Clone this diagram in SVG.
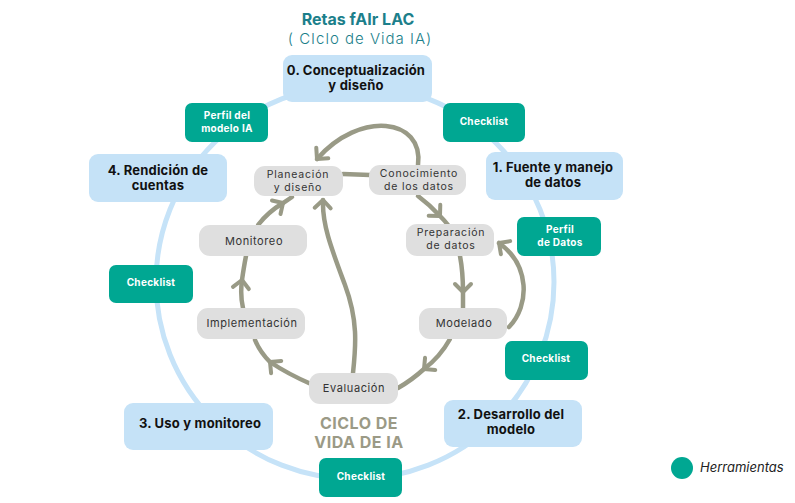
<svg xmlns="http://www.w3.org/2000/svg" width="795" height="503" viewBox="0 0 795 503">
<defs>
<style>
.ring{fill:none;stroke:#c6e3f8;stroke-width:5}
.conn{fill:none;stroke:#999a86;stroke-width:4.5;stroke-linecap:round}
.blue{fill:#c5e2f7}
.green{fill:#00a792}
.gray{fill:#dfdfdf}
.tb{font-family:Inter,"Liberation Sans",sans-serif;font-weight:700;font-size:13px;letter-spacing:0.2px;fill:#111;text-anchor:middle}
.tg{font-family:Inter,"Liberation Sans",sans-serif;font-weight:700;font-size:10px;letter-spacing:0.3px;fill:#fff;text-anchor:middle}
.tc{font-family:Inter,"Liberation Sans",sans-serif;font-weight:400;font-size:11px;letter-spacing:0.6px;fill:#333;text-anchor:middle}
.tc2{font-family:Inter,"Liberation Sans",sans-serif;font-weight:400;font-size:10.5px;letter-spacing:0.8px;fill:#333;text-anchor:middle}
.title{font-family:Inter,"Liberation Sans",sans-serif;fill:#1c7f8b;text-anchor:middle}
.ciclo{font-family:Inter,"Liberation Sans",sans-serif;font-weight:700;font-size:16px;letter-spacing:0.5px;fill:#9b9a86;text-anchor:middle}
</style>
<marker id="chev" markerUnits="userSpaceOnUse" markerWidth="24" markerHeight="24" viewBox="-12 -12 24 24" refX="0" refY="0" orient="auto">
<path d="M-8,-8 L0,0 L-8,8" fill="none" stroke="#999a86" stroke-width="4" stroke-linecap="round" stroke-linejoin="round"/>
</marker>
</defs>
<rect width="795" height="503" fill="#fff"/>

<g id="title">
<text class="title" x="358" y="25" font-size="16px" font-weight="700">Retas fAIr LAC</text>
<text class="title" x="360" y="44" font-size="15px" font-weight="300" letter-spacing="1px">( CIclo de Vida IA)</text>
</g>

<g id="ring">
<ellipse class="ring" cx="355" cy="282" rx="199" ry="197"/>
</g>

<g id="connectors">
<path class="conn" d="M343,174 L370,175" stroke-width="5"/>
<path class="conn" d="M418,196 Q430,205 440,216 Q445,221 448,225" marker-mid="url(#chev)"/>
<path class="conn" d="M460,256 Q463,272 463,292 Q463,300 463,308" marker-mid="url(#chev)"/>
<path class="conn" d="M450,339 Q440,357 424,369 Q412,380 398,388" marker-mid="url(#chev)"/>
<path class="conn" d="M311,384 Q288,374 270,362 Q260,352 255,340" marker-mid="url(#chev)"/>
<path class="conn" d="M243,308 Q240,295 242,280 Q244,266 246,256" marker-mid="url(#chev)"/>
<path class="conn" d="M258,225 Q268,212 283,203 L292,197" marker-mid="url(#chev)"/>
<path class="conn" d="M418,165 C424,118 360,110 317,159" marker-end="url(#chev)"/>
<path class="conn" d="M509,327 C530,305 530,265 499,243" marker-end="url(#chev)"/>
<path class="conn" d="M353,373 C356,345 358,320 345,285 S322,225 323,200" marker-end="url(#chev)"/>
</g>

<g id="stage0">
<rect class="blue" x="283" y="55" width="149" height="47" rx="9"/>
<text class="tb" x="356" y="75">0. Conceptualización</text>
<text class="tb" x="356" y="90">y diseño</text>
</g>
<g id="stage1">
<rect class="blue" x="486" y="152" width="137" height="48" rx="9"/>
<text class="tb" x="553" y="172">1. Fuente y manejo</text>
<text class="tb" x="553" y="187">de datos</text>
</g>
<g id="stage2">
<rect class="blue" x="444" y="400" width="138" height="47" rx="9"/>
<text class="tb" x="511" y="419">2. Desarrollo del</text>
<text class="tb" x="511" y="434">modelo</text>
</g>
<g id="stage3">
<rect class="blue" x="124" y="403" width="149" height="47" rx="9"/>
<text class="tb" x="200" y="428">3. Uso y monitoreo</text>
</g>
<g id="stage4">
<rect class="blue" x="89" y="154" width="138" height="48" rx="9"/>
<text class="tb" x="158" y="175">4. Rendición de</text>
<text class="tb" x="158" y="190">cuentas</text>
</g>

<g id="tool-perfil-modelo">
<rect class="green" x="185" y="103" width="83" height="39" rx="7"/>
<text class="tg" x="227" y="119">Perfil del</text>
<text class="tg" x="227" y="132">modelo IA</text>
</g>
<g id="tool-checklist-0">
<rect class="green" x="443" y="103" width="82" height="39" rx="7"/>
<text class="tg" x="484" y="125">Checklist</text>
</g>
<g id="tool-perfil-datos">
<rect class="green" x="517" y="217" width="84" height="39" rx="7"/>
<text class="tg" x="560" y="233">Perfil</text>
<text class="tg" x="560" y="246">de Datos</text>
</g>
<g id="tool-checklist-1">
<rect class="green" x="505" y="341" width="83" height="39" rx="7"/>
<text class="tg" x="546" y="362">Checklist</text>
</g>
<g id="tool-checklist-2">
<rect class="green" x="319" y="458" width="83" height="39" rx="7"/>
<text class="tg" x="361" y="480">Checklist</text>
</g>
<g id="tool-checklist-3">
<rect class="green" x="109" y="265" width="84" height="38" rx="7"/>
<text class="tg" x="151" y="286">Checklist</text>
</g>

<g id="planeacion">
<rect class="gray" x="254" y="166" width="89" height="30" rx="11"/>
<text class="tc2" x="298" y="178.3">Planeación</text>
<text class="tc2" x="298" y="191.2">y diseño</text>
</g>
<g id="conocimiento">
<rect class="gray" x="369" y="165" width="97" height="30" rx="11"/>
<text class="tc2" x="419" y="177.2">Conocimiento</text>
<text class="tc2" x="419" y="190.1">de los datos</text>
</g>
<g id="preparacion">
<rect class="gray" x="406" y="224" width="88" height="32" rx="11"/>
<text class="tc2" x="451" y="236.2">Preparación</text>
<text class="tc2" x="451" y="249.1">de datos</text>
</g>
<g id="monitoreo">
<rect class="gray" x="199" y="225" width="108" height="31" rx="11"/>
<text class="tc" x="254" y="245">Monitoreo</text>
</g>
<g id="implementacion">
<rect class="gray" x="197" y="308" width="108" height="31" rx="11"/>
<text class="tc" x="252" y="327">Implementación</text>
</g>
<g id="modelado">
<rect class="gray" x="419" y="308" width="88" height="31" rx="11"/>
<text class="tc" x="464" y="327">Modelado</text>
</g>
<g id="evaluacion">
<rect class="gray" x="309" y="373" width="89" height="31" rx="11"/>
<text class="tc" x="354" y="392">Evaluación</text>
</g>

<g id="ciclo-label">
<text class="ciclo" x="359" y="429">CICLO DE</text>
<text class="ciclo" x="359" y="448">VIDA DE IA</text>
</g>

<g id="legend">
<circle cx="682" cy="468" r="11" fill="#00a792"/>
<text x="700" y="472" font-family="Inter,'Liberation Sans',sans-serif" font-style="italic" font-size="13px" fill="#222">Herramientas</text>
</g>
</svg>
